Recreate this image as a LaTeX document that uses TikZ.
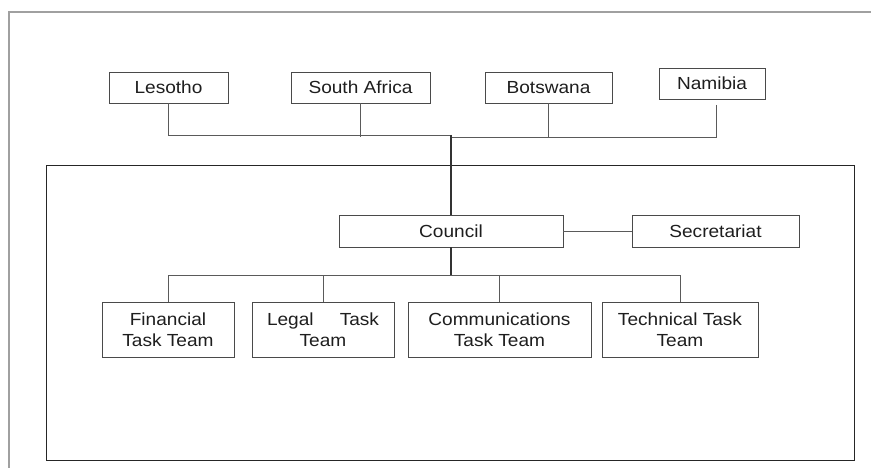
\documentclass[tikz,border=0pt]{standalone}
\usepackage{fontspec}
\setmainfont{Liberation Sans}[FakeStretch=1.09]
\definecolor{boxline}{HTML}{4A4A4A}
\definecolor{conn}{HTML}{5A5A5A}
\definecolor{frame}{HTML}{A0A0A0}
\definecolor{txt}{HTML}{1E1E1E}
\begin{document}
\begin{tikzpicture}[x=1pt,y=-1pt,
  orgbox/.style={draw=boxline,line width=0.9pt,fill=white,inner sep=0pt,
    minimum height=31pt,text=txt,font=\fontsize{17.5}{21}\selectfont},
  tallbox/.style={orgbox,minimum height=55pt,align=center},
  wire/.style={draw=conn,line width=0.9pt}]
\useasboundingbox (0,0) rectangle (871,468);
\fill[white] (0,0) rectangle (871,468);
% outer frame
\draw[frame,line width=1.5pt] (9,468) -- (9,12) -- (871,12);
% inner frame
\draw[black!85,line width=1pt] (46,166) rectangle (854,460);
% member states
\node[orgbox,minimum width=119pt] (les) at (168.5,87.5) {Lesotho};
\node[orgbox,minimum width=139pt] (sa) at (360.5,87.5) {South Africa};
\node[orgbox,minimum width=127pt] (bot) at (548.5,87.5) {Botswana};
\node[orgbox,minimum width=106pt] (nam) at (712,83.5) {Namibia};
% council
\node[orgbox,minimum width=224pt,minimum height=32pt] (council) at (451,231) {Council};
\node[orgbox,minimum width=167pt,minimum height=32pt] (sec) at (715.5,231) {Secretariat};
% task teams
\node[tallbox,minimum width=132pt] (fin) at (168,329.5) {Financial\\Task Team};
\node[tallbox,minimum width=142pt] (leg) at (323,329.5) {\makebox[112pt]{Legal\hfill Task}\\Team};
\node[tallbox,minimum width=183pt] (com) at (499.5,329.5) {Communications\\Task Team};
\node[tallbox,minimum width=156pt] (tec) at (680,329.5) {Technical Task\\Team};
% junction coordinates
\coordinate (jl) at (451,135);
\coordinate (jr) at (451,137);
\coordinate (namtop) at (716,105);
\coordinate (bus) at (451,275);
% top connectors
\draw[wire] (les.south) |- (jl);
\draw[wire] (sa.south) -- ++(0,34);
\draw[wire] (bot.south) |- (jr);
\draw[wire] (namtop) |- (jr);
\draw[wire,line width=1.2pt,black!80] (jl) -- (council.north);
% council connectors
\draw[wire] (council.east) -- (sec.west);
\draw[wire,line width=1.2pt,black!80] (council.south) -- (bus);
\draw[wire] (fin.north) |- (bus);
\draw[wire] (tec.north) |- (bus);
\draw[wire] (leg.north) -- (leg.north |- bus);
\draw[wire] (com.north) -- (com.north |- bus);
\end{tikzpicture}
\end{document}
